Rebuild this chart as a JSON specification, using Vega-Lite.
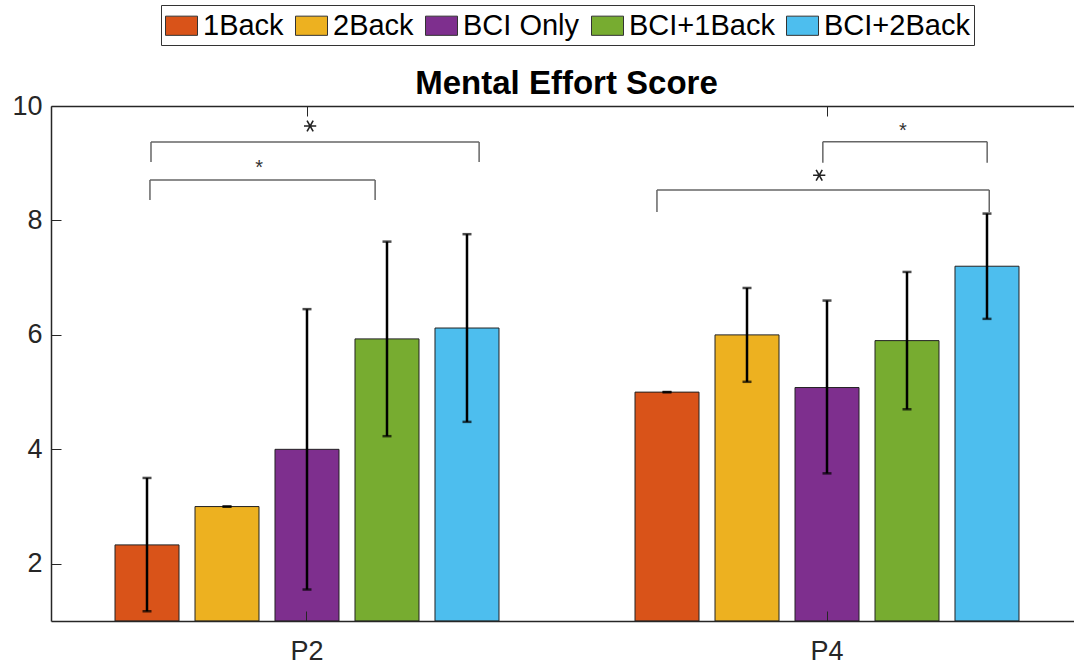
{
  "$schema": "https://vega.github.io/schema/vega-lite/v6.json",
  "width": 1023,
  "height": 515,
  "autosize": {"type": "none"},
  "padding": {"left": 51, "top": 106, "right": 0, "bottom": 45},
  "background": "white",
  "config": {"font": "Liberation Sans", "view": {"stroke": null}},
  "title": {"text": "Mental Effort Score", "fontSize": 33, "fontWeight": "bold", "color": "black", "anchor": "middle", "offset": -96, "dx": 4},
  "datasets": {
    "bars": [
      {"participant": "P2", "condition": "1Back", "mean": 2.33, "lo": 1.17, "hi": 3.5},
      {"participant": "P2", "condition": "2Back", "mean": 3.0, "lo": 3.0, "hi": 3.0},
      {"participant": "P2", "condition": "BCI Only", "mean": 4.0, "lo": 1.55, "hi": 6.45},
      {"participant": "P2", "condition": "BCI+1Back", "mean": 5.93, "lo": 4.23, "hi": 7.63},
      {"participant": "P2", "condition": "BCI+2Back", "mean": 6.12, "lo": 4.48, "hi": 7.76},
      {"participant": "P4", "condition": "1Back", "mean": 5.0, "lo": 5.0, "hi": 5.0},
      {"participant": "P4", "condition": "2Back", "mean": 6.0, "lo": 5.18, "hi": 6.82},
      {"participant": "P4", "condition": "BCI Only", "mean": 5.08, "lo": 3.58, "hi": 6.6},
      {"participant": "P4", "condition": "BCI+1Back", "mean": 5.9, "lo": 4.7, "hi": 7.1},
      {"participant": "P4", "condition": "BCI+2Back", "mean": 7.2, "lo": 6.28, "hi": 8.12}
    ],
    "brackets": [
      {"bx": 0.7, "bx2": 0.7, "by": 9.021, "by2": 9.371},
      {"bx": 0.7, "bx2": 1.331, "by": 9.371, "by2": 9.371},
      {"bx": 1.331, "bx2": 1.331, "by": 9.371, "by2": 9.021},
      {"bx": 0.698, "bx2": 0.698, "by": 8.357, "by2": 8.707},
      {"bx": 0.698, "bx2": 1.131, "by": 8.707, "by2": 8.707},
      {"bx": 1.131, "bx2": 1.131, "by": 8.707, "by2": 8.357},
      {"bx": 1.992, "bx2": 1.992, "by": 9.009, "by2": 9.376},
      {"bx": 1.992, "bx2": 2.308, "by": 9.376, "by2": 9.376},
      {"bx": 2.308, "bx2": 2.308, "by": 9.376, "by2": 9.009},
      {"bx": 1.673, "bx2": 1.673, "by": 8.147, "by2": 8.532},
      {"bx": 1.673, "bx2": 2.312, "by": 8.532, "by2": 8.532},
      {"bx": 2.312, "bx2": 2.312, "by": 8.532, "by2": 8.147}
    ],
    "bigstars": [
      {"sx": 1.006, "sy": 9.65},
      {"sx": 1.985, "sy": 8.79}
    ],
    "smallstars": [
      {"sx": 0.908, "sy": 9.0, "label": "*"},
      {"sx": 2.146, "sy": 9.65, "label": "*"}
    ]
  },
  "layer": [
    {
      "data": {"name": "bars"},
      "encoding": {
        "x": {
          "field": "participant", "type": "nominal",
          "scale": {"range": [0, 1032], "paddingInner": 0.2308, "paddingOuter": 0.1077},
          "axis": {"title": null, "labelAngle": 0, "labelFontSize": 27, "labelColor": "#262626", "tickSize": -10, "tickColor": "#262626", "domainColor": "#262626", "domainWidth": 1.5, "labelPadding": 27, "zindex": 1}
        },
        "xOffset": {
          "field": "condition", "type": "nominal",
          "sort": ["1Back", "2Back", "BCI Only", "BCI+1Back", "BCI+2Back"],
          "scale": {"paddingInner": 0.2, "paddingOuter": 0.1}
        }
      },
      "layer": [
        {
          "mark": {"type": "bar", "stroke": "#222222", "strokeWidth": 1},
          "encoding": {
            "y": {
              "field": "mean", "type": "quantitative",
              "scale": {"domain": [1, 10], "nice": false, "zero": false},
              "axis": {"title": null, "values": [2, 4, 6, 8, 10], "format": "d", "labelFontSize": 27, "labelColor": "#262626", "tickSize": -10, "tickColor": "#262626", "domainColor": "#262626", "domainWidth": 1.5, "labelPadding": 19, "grid": false, "zindex": 1}
            },
            "y2": {"datum": 1},
            "color": {
              "field": "condition", "type": "nominal",
              "sort": ["1Back", "2Back", "BCI Only", "BCI+1Back", "BCI+2Back"],
              "scale": {"domain": ["1Back", "2Back", "BCI Only", "BCI+1Back", "BCI+2Back"], "range": ["#D95319", "#EDB120", "#7E2F8E", "#77AC30", "#4DBEEE"]},
              "legend": {
                "orient": "none", "legendX": 110, "legendY": -101,
                "direction": "horizontal", "columns": 5, "title": null,
                "symbolType": "M-1,-0.6H1V0.6H-1Z", "symbolSize": 1024,
                "symbolStrokeColor": "#333333", "symbolStrokeWidth": 1,
                "labelFontSize": 29, "labelColor": "black", "labelOffset": 5,
                "columnPadding": 9, "strokeColor": "#333333", "fillColor": "white", "padding": 4
              }
            }
          }
        },
        {
          "mark": {"type": "rule", "color": "black", "strokeWidth": 2.5},
          "encoding": {
            "y": {"field": "lo", "type": "quantitative", "title": null},
            "y2": {"field": "hi"}
          }
        },
        {
          "mark": {"type": "tick", "color": "black", "thickness": 2.5, "size": 9},
          "encoding": {"y": {"field": "lo", "type": "quantitative", "title": null}}
        },
        {
          "mark": {"type": "tick", "color": "black", "thickness": 2.5, "size": 9},
          "encoding": {"y": {"field": "hi", "type": "quantitative", "title": null}}
        }
      ]
    },
    {
      "layer": [
        {
          "data": {"name": "brackets"},
          "mark": {"type": "rule", "color": "#666666", "strokeWidth": 1.5},
          "encoding": {
            "x": {
              "field": "bx", "type": "quantitative",
              "scale": {"domain": [0.5077, 2.4923], "range": [0, 1032], "nice": false, "zero": false},
              "axis": {"orient": "top", "values": [1, 2], "labels": false, "title": null, "grid": false, "tickSize": -10, "tickColor": "#262626", "domainColor": "#262626", "domainWidth": 1.5, "zindex": 1}
            },
            "x2": {"field": "bx2"},
            "y": {"field": "by", "type": "quantitative", "title": null},
            "y2": {"field": "by2"}
          }
        },
        {
          "data": {"name": "bigstars"},
          "mark": {"type": "point", "shape": "M-1,0L1,0M-0.5,-0.866L0.5,0.866M-0.5,0.866L0.5,-0.866", "size": 150, "stroke": "#222222", "strokeWidth": 1.6, "filled": false, "opacity": 1},
          "encoding": {
            "x": {"field": "sx", "type": "quantitative"},
            "y": {"field": "sy", "type": "quantitative", "title": null}
          }
        },
        {
          "data": {"name": "smallstars"},
          "mark": {"type": "text", "fontSize": 20, "color": "#333333", "baseline": "alphabetic", "dy": 11},
          "encoding": {
            "x": {"field": "sx", "type": "quantitative"},
            "y": {"field": "sy", "type": "quantitative", "title": null},
            "text": {"field": "label"}
          }
        }
      ]
    }
  ],
  "resolve": {"scale": {"x": "independent"}, "axis": {"x": "independent"}}
}
